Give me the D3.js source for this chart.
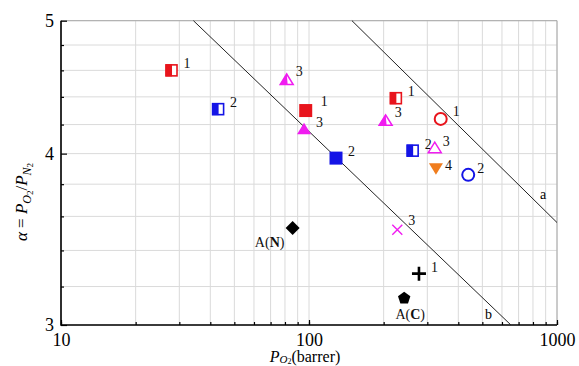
<!DOCTYPE html>
<html>
<head>
<meta charset="utf-8">
<script src="https://cdn.jsdelivr.net/npm/d3@7"></script>
<style>
	body { margin: 0; background: #fff; }
	svg { display: block; font-family: "Liberation Serif", "Times New Roman", serif; }
</style>
</head>
<body>
<svg id="chart" width="579" height="366"></svg>
<script>
// DATA
// ====
const X_TICK_LABELS = [10, 100, 1000];
const Y_TICK_LABELS = [3, 4, 5];
const Y_MINOR_TICKS = [3.2, 3.4, 3.6, 3.8, 4.2, 4.4, 4.6, 4.8];

// O2 permeability (barrer) and O2/N2 selectivity of each membrane
const POINT_P = [27.9, 43.0, 81.3, 97.0, 95.5, 128.5, 224, 203.7, 339.7, 261.8, 321.4, 325, 438.6, 227, 277.6, 242, 85.9];
const POINT_ALPHA = [4.60, 4.31, 4.53, 4.30, 4.17, 3.97, 4.39, 4.23, 4.24, 4.02, 4.04, 3.90, 3.86, 3.52, 3.27, 3.14, 3.53];
const POINT_MARKER = [
	"redHalfSquare", "blueHalfSquare", "magentaHalfTriangle", "redSquare", "magentaTriangle",
	"blueSquare", "redHalfSquare", "magentaHalfTriangle", "redCircle", "blueHalfSquare",
	"magentaOpenTriangle", "orangeTriangleDown", "blueCircle", "magentaCross", "blackPlus",
	"blackPentagon", "blackDiamond",
];
const POINT_TAG = ["1", "2", "3", "1", "3", "2", "1", "3", "1", "2", "3", "4", "2", "3", "1", "A(C)", "A(N)"];

// upper bound lines: a (2008) and b (1991)
const LINE_NAMES = ["a", "b"];
const LINE_A_P = [149, 1000];
const LINE_A_ALPHA = [5, 3.563];
const LINE_B_P = [34.2, 652];
const LINE_B_ALPHA = [5, 3];

// STYLE
// =====
const RED = "#e8141c";
const BLUE = "#1414e6";
const MAGENTA = "#f01cf0";
const ORANGE = "#f07d1e";
const BLACK = "#000";
const GRID_COLOR = "#dadada";

const TAG_UR = { dx: 12, dy: -7, anchor: "start" };
const MARKERS = {
	redHalfSquare: { shape: "halfSquare", color: RED, tag: TAG_UR },
	blueHalfSquare: { shape: "halfSquare", color: BLUE, tag: TAG_UR },
	redSquare: { shape: "square", color: RED, tag: { dx: 15, dy: -9, anchor: "start" } },
	blueSquare: { shape: "square", color: BLUE, tag: TAG_UR },
	magentaHalfTriangle: { shape: "halfTriangle", color: MAGENTA, tag: { dx: 9, dy: -8, anchor: "start" } },
	magentaTriangle: { shape: "triangle", color: MAGENTA, tag: TAG_UR },
	magentaOpenTriangle: { shape: "openTriangle", color: MAGENTA, tag: { dx: 8, dy: -7, anchor: "start" } },
	orangeTriangleDown: { shape: "triangleDown", color: ORANGE, tag: { dx: 9, dy: -4, anchor: "start" } },
	redCircle: { shape: "circle", color: RED, tag: { dx: 12, dy: -8, anchor: "start" } },
	blueCircle: { shape: "circle", color: BLUE, tag: { dx: 9, dy: -7, anchor: "start" } },
	magentaCross: { shape: "cross", color: MAGENTA, tag: { dx: 11, dy: -10, anchor: "start" } },
	blackPlus: { shape: "plus", color: BLACK, tag: { dx: 12, dy: -7, anchor: "start" } },
	blackPentagon: { shape: "pentagon", color: BLACK, tag: { dx: 6, dy: 16, anchor: "middle" } },
	blackDiamond: { shape: "diamond", color: BLACK, tag: { dx: -23, dy: 14, anchor: "middle" } },
};

const svg = d3.select("#chart");
const margin = { top: 20.7, right: 22, bottom: 41, left: 61 };
const width = +svg.attr("width");
const height = +svg.attr("height");
const x0 = margin.left, x1 = width - margin.right;
const y0 = height - margin.bottom, y1 = margin.top;

const x = d3.scaleLog().domain([10, 1000]).range([x0, x1]);
const y = d3.scaleLog().domain([3, 5]).range([y0, y1]);

// GRID
// ====
const grid = svg.append("g").attr("stroke", GRID_COLOR).attr("stroke-width", 1);
grid.selectAll(".vgrid")
	.data(x.ticks())
	.join("line")
	.attr("x1", d => x(d)).attr("x2", d => x(d))
	.attr("y1", y1).attr("y2", y0);
grid.selectAll(".hgrid")
	.data(Y_TICK_LABELS.concat(Y_MINOR_TICKS))
	.join("line")
	.attr("x1", x0).attr("x2", x1)
	.attr("y1", d => y(d)).attr("y2", d => y(d));

// frame top / right
svg.append("path")
	.attr("d", `M${x0},${y1}H${x1}V${y0}`)
	.attr("fill", "none")
	.attr("stroke", "#a8a8a8");

// AXES
// ====
function styleAxis(g) {
	g.select(".domain").remove();
	g.selectAll(".tick line").attr("stroke", BLACK).attr("stroke-width", 1.2);
	g.selectAll(".tick text")
		.attr("font-family", "Liberation Serif, serif")
		.attr("font-size", 18)
		.attr("fill", BLACK);
}

svg.append("g")
	.attr("transform", `translate(0,${y0})`)
	.call(d3.axisBottom(x).tickValues(x.ticks()).tickSize(-3).tickFormat(""))
	.call(styleAxis);
svg.append("g")
	.attr("transform", `translate(0,${y0})`)
	.call(d3.axisBottom(x).tickValues(X_TICK_LABELS).tickSize(-5).tickPadding(8).tickFormat(d3.format("d")))
	.call(styleAxis);

svg.append("g")
	.attr("transform", `translate(${x0},0)`)
	.call(d3.axisLeft(y).tickValues(Y_MINOR_TICKS).tickSize(-3).tickFormat(""))
	.call(styleAxis);
svg.append("g")
	.attr("transform", `translate(${x0},0)`)
	.call(d3.axisLeft(y).tickValues(Y_TICK_LABELS).tickSize(-6).tickPadding(7).tickFormat(d3.format("d")))
	.call(styleAxis);

svg.append("path")
	.attr("d", `M${x0},${y1}V${y0}H${x1}`)
	.attr("fill", "none")
	.attr("stroke", BLACK)
	.attr("stroke-width", 1.6);

// axis titles
const xTitle = svg.append("text")
	.attr("x", 305)
	.attr("y", 362)
	.attr("text-anchor", "middle")
	.attr("font-size", 16);
xTitle.append("tspan").attr("font-style", "italic").text("P");
xTitle.append("tspan").attr("font-size", 11).attr("dy", 1).attr("font-style", "italic").text("O");
xTitle.append("tspan").attr("font-size", 8).attr("dy", 1).text("2");
xTitle.append("tspan").attr("dy", -2).text("(barrer)");

const yTitle = svg.append("text")
	.attr("transform", "translate(27,202) rotate(-90)")
	.attr("text-anchor", "middle")
	.attr("font-size", 17);
yTitle.append("tspan").attr("font-style", "italic").text("α");
yTitle.append("tspan").text(" = ");
yTitle.append("tspan").attr("font-style", "italic").text("P");
yTitle.append("tspan").attr("font-size", 12).attr("dy", 4).attr("font-style", "italic").text("O");
yTitle.append("tspan").attr("font-size", 9).attr("dy", 2).text("2");
yTitle.append("tspan").attr("dy", -6).text("/");
yTitle.append("tspan").attr("font-style", "italic").text("P");
yTitle.append("tspan").attr("font-size", 12).attr("dy", 4).attr("font-style", "italic").text("N");
yTitle.append("tspan").attr("font-size", 9).attr("dy", 2).text("2");

// UPPER BOUND LINES
// =================
const plot = svg.append("g");
const line = d3.line().x(d => x(d.p)).y(d => y(d.a));
const boundLines = [
	LINE_A_P.map((p, i) => ({ p, a: LINE_A_ALPHA[i] })),
	LINE_B_P.map((p, i) => ({ p, a: LINE_B_ALPHA[i] })),
];
plot.selectAll(".bound")
	.data(boundLines)
	.join("path")
	.attr("class", "bound")
	.attr("d", line)
	.attr("fill", "none")
	.attr("stroke", "#222")
	.attr("stroke-width", 1);

// line names, placed near their lower end
const lineNamePos = [{ p: 880, a: 3.74 }, { p: 530, a: 3.055 }];
plot.selectAll(".bound-name")
	.data(LINE_NAMES)
	.join("text")
	.attr("x", (d, i) => x(lineNamePos[i].p))
	.attr("y", (d, i) => y(lineNamePos[i].a))
	.attr("text-anchor", "middle")
	.attr("dy", "0.35em")
	.attr("font-size", 14)
	.text(d => d);

// MARKERS
// =======
function drawMarker(g, shape, color) {
	switch (shape) {
		case "halfSquare":
			g.append("rect").attr("x", -5.5).attr("y", -5.5).attr("width", 11).attr("height", 11)
				.attr("fill", "#fff").attr("stroke", color).attr("stroke-width", 1.6);
			g.append("rect").attr("x", -6).attr("y", -6).attr("width", 6.5).attr("height", 12)
				.attr("fill", color);
			break;
		case "square":
			g.append("rect").attr("x", -6.5).attr("y", -6.5).attr("width", 13).attr("height", 13)
				.attr("fill", color);
			break;
		case "triangle":
			g.append("path").attr("d", "M0,-6L7,5.5L-7,5.5Z").attr("fill", color);
			break;
		case "halfTriangle":
			g.append("path").attr("d", "M0,-5.5L6.5,5L-6.5,5Z")
				.attr("fill", "#fff").attr("stroke", color).attr("stroke-width", 1.5);
			g.append("path").attr("d", "M0,-6L1,5.5L-7,5.5Z").attr("fill", color);
			break;
		case "openTriangle":
			g.append("path").attr("d", "M0,-5.5L6.5,5L-6.5,5Z")
				.attr("fill", "#fff").attr("stroke", color).attr("stroke-width", 1.5);
			break;
		case "triangleDown":
			g.append("path").attr("d", "M-7,-5.5L7,-5.5L0,6Z").attr("fill", color);
			break;
		case "circle":
			g.append("circle").attr("r", 6)
				.attr("fill", "#fff").attr("stroke", color).attr("stroke-width", 2);
			break;
		case "cross":
			g.append("path").attr("d", "M-5,-5L5,5M-5,5L5,-5")
				.attr("stroke", color).attr("stroke-width", 1.4);
			break;
		case "plus":
			g.append("path").attr("d", "M-7,0H7M0,-7V7")
				.attr("stroke", color).attr("stroke-width", 2.6);
			break;
		case "pentagon": {
			const pts = d3.range(5).map(k => {
				const t = -Math.PI / 2 + k * 2 * Math.PI / 5;
				return [6.5 * Math.cos(t), 6.5 * Math.sin(t) + 0.5];
			});
			g.append("path").attr("d", "M" + pts.join("L") + "Z").attr("fill", color);
			break;
		}
		case "diamond":
			g.append("path").attr("d", "M0,-7L7,0L0,7L-7,0Z").attr("fill", color);
			break;
	}
}

const points = POINT_P.map((p, i) => ({
	p,
	a: POINT_ALPHA[i],
	style: MARKERS[POINT_MARKER[i]],
	tag: POINT_TAG[i],
}));

const marks = plot.selectAll(".mark")
	.data(points)
	.join("g")
	.attr("class", "mark")
	.attr("transform", d => `translate(${x(d.p)},${y(d.a)})`);

marks.each(function(d) {
	drawMarker(d3.select(this), d.style.shape, d.style.color);
});

// tags: plain numbers, or A(X) with a bold letter
marks.append("text")
	.attr("x", d => d.style.tag.dx)
	.attr("y", d => d.style.tag.dy)
	.attr("dy", "0.35em")
	.attr("text-anchor", d => d.style.tag.anchor)
	.attr("font-size", 14)
	.attr("fill", "#111")
	.each(function(d) {
		const t = d3.select(this);
		const m = d.tag.match(/^A\((.)\)$/);
		if (m) {
			t.append("tspan").text("A(");
			t.append("tspan").attr("font-weight", "bold").text(m[1]);
			t.append("tspan").text(")");
		} else {
			t.text(d.tag);
		}
	});
</script>
</body>
</html>
